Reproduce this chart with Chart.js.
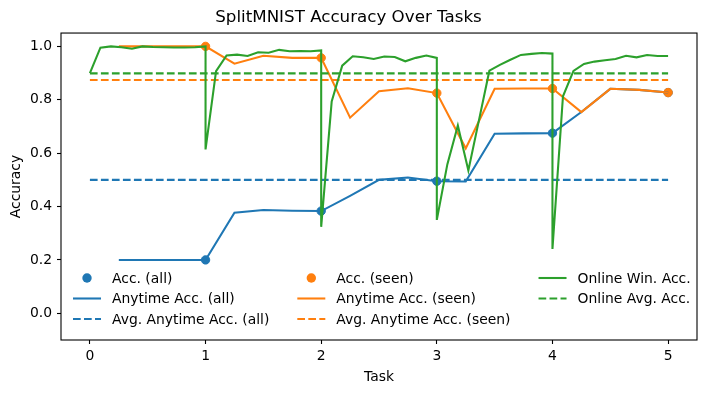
<!DOCTYPE html>
<html>
<head>
<meta charset="utf-8">
<script src="https://cdn.jsdelivr.net/npm/chart.js@4/dist/chart.umd.min.js"></script>
<style>
  body { margin: 0; background: #fff; }
</style>
</head>
<body>
<canvas id="myChart" width="706" height="393"></canvas>
<script>
// values
const tasks = [1, 2, 3, 4, 5];
const accAll = [0.2, 0.383, 0.495, 0.675, 0.827];
const accSeen = [1.0, 0.957, 0.825, 0.842, 0.827];

const evalSteps = [0.25, 0.5, 0.75, 1.0, 1.25, 1.5, 1.75, 2.0, 2.25, 2.5,
                   2.75, 3.0, 3.25, 3.5, 3.75, 4.0, 4.25, 4.5, 4.75, 5.0];
const anytimeAll = [0.2, 0.2, 0.2, 0.2, 0.377, 0.387, 0.384, 0.383, 0.44, 0.5,
                    0.509, 0.495, 0.494, 0.673, 0.674, 0.675, 0.754, 0.841, 0.837, 0.827];
const anytimeSeen = [1.0, 1.0, 1.0, 1.0, 0.935, 0.965, 0.957, 0.957, 0.733, 0.832,
                     0.843, 0.825, 0.618, 0.841, 0.842, 0.842, 0.754, 0.841, 0.837, 0.827];

const avgAnytimeAll = 0.5;
const avgAnytimeSeen = 0.874;
const onlineAvgAcc = 0.899;

// online window accuracy, 12 evaluations per task (task start .. task end)
const onlineTask0 = [0.90, 0.995, 1.0, 0.997, 0.991, 1.0, 0.998, 0.997, 0.996, 0.996, 0.997, 1.0];
const onlineTask1 = [0.614, 0.907, 0.966, 0.969, 0.964, 0.978, 0.976, 0.987, 0.982, 0.983, 0.982, 0.985];
const onlineTask2 = [0.324, 0.794, 0.928, 0.963, 0.959, 0.953, 0.962, 0.960, 0.944, 0.957, 0.966, 0.957];
const onlineTask3 = [0.35, 0.558, 0.704, 0.535, 0.722, 0.909, 0.931, 0.95, 0.968, 0.972, 0.975, 0.973];
const onlineTask4 = [0.241, 0.813, 0.908, 0.934, 0.943, 0.948, 0.953, 0.965, 0.959, 0.968, 0.964, 0.964];

const xTicks = [0, 1, 2, 3, 4, 5];
const yTicks = [0.0, 0.2, 0.4, 0.6, 0.8, 1.0];

const BLUE = '#1f77b4';
const ORANGE = '#ff7f0e';
const GREEN = '#2ca02c';
const FONT = "'DejaVu Sans', sans-serif";
const LW = 2.08;
const DASH = [7.7, 3.3];

function pairs(xs, ys) {
    return xs.map((x, i) => ({ x: x, y: ys[i] }));
}

const onlineWin = [];
[onlineTask0, onlineTask1, onlineTask2, onlineTask3, onlineTask4].forEach((vals, t) => {
    vals.forEach((v, j) => onlineWin.push({ x: t + j / 11, y: v }));
});

function flat(v) {
    return [{ x: 0, y: v }, { x: 5, y: v }];
}

function lineSet(label, data, color, dashed, order) {
    return {
        type: 'line',
        label: label,
        data: data,
        borderColor: color,
        backgroundColor: color,
        borderWidth: LW,
        borderDash: dashed ? DASH : [],
        pointRadius: 0,
        tension: 0,
        fill: false,
        order: order
    };
}

function scatterSet(label, data, color, order) {
    return {
        type: 'scatter',
        label: label,
        data: data,
        borderColor: color,
        backgroundColor: color,
        pointRadius: 4.2,
        borderWidth: 1,
        showLine: false,
        order: order
    };
}

// frame round the plot and a matplotlib-like legend (3 columns, column-major)
const framePlugin = {
    id: 'frameAndLegend',
    afterDraw(chart) {
        const ctx = chart.ctx;
        const a = chart.chartArea;
        ctx.save();
        ctx.strokeStyle = '#000';
        ctx.lineWidth = 1.1;
        ctx.strokeRect(a.left, a.top, a.right - a.left, a.bottom - a.top);

        ctx.font = '13.9px ' + FONT;
        ctx.textBaseline = 'middle';
        ctx.textAlign = 'left';
        const sets = chart.data.datasets;
        const rows = 3;
        const handle = 28, pad = 11, colGap = 28;
        const rowY = [a.bottom - 62, a.bottom - 41.5, a.bottom - 21];
        let x = a.left + 12;
        for (let c = 0; c * rows < sets.length; c++) {
            let maxW = 0;
            for (let r = 0; r < rows; r++) {
                const ds = sets[c * rows + r];
                if (!ds) continue;
                const y = rowY[r];
                if (ds.type === 'scatter') {
                    ctx.fillStyle = ds.backgroundColor;
                    ctx.beginPath();
                    ctx.arc(x + handle / 2, y, 4.7, 0, Math.PI * 2);
                    ctx.fill();
                } else {
                    ctx.strokeStyle = ds.borderColor;
                    ctx.lineWidth = LW;
                    ctx.setLineDash(ds.borderDash);
                    ctx.beginPath();
                    ctx.moveTo(x, y);
                    ctx.lineTo(x + handle, y);
                    ctx.stroke();
                    ctx.setLineDash([]);
                }
                ctx.fillStyle = '#000';
                ctx.fillText(ds.label, x + handle + pad, y + 1);
                maxW = Math.max(maxW, ctx.measureText(ds.label).width);
            }
            x += handle + pad + maxW + colGap;
        }
        ctx.restore();
    }
};

const ctx = document.getElementById('myChart').getContext('2d');
const myChart = new Chart(ctx, {
    data: {
        datasets: [
            scatterSet('Acc. (all)', pairs(tasks, accAll), BLUE, 20),
            lineSet('Anytime Acc. (all)', pairs(evalSteps, anytimeAll), BLUE, false, 8),
            lineSet('Avg. Anytime Acc. (all)', flat(avgAnytimeAll), BLUE, true, 7),
            scatterSet('Acc. (seen)', pairs(tasks, accSeen), ORANGE, 19),
            lineSet('Anytime Acc. (seen)', pairs(evalSteps, anytimeSeen), ORANGE, false, 6),
            lineSet('Avg. Anytime Acc. (seen)', flat(avgAnytimeSeen), ORANGE, true, 5),
            lineSet('Online Win. Acc.', onlineWin, GREEN, false, 4),
            lineSet('Online Avg. Acc.', flat(onlineAvgAcc), GREEN, true, 3)
        ]
    },
    plugins: [framePlugin],
    options: {
        responsive: false,
        devicePixelRatio: 1,
        animation: false,
        layout: { padding: { left: 0, right: 9, top: 0, bottom: 0 } },
        scales: {
            x: {
                type: 'linear',
                min: -0.25,
                max: 5.25,
                afterBuildTicks: (scale) => { scale.ticks = xTicks.map(v => ({ value: v })); },
                afterFit: (scale) => { scale.height = 53; },
                ticks: {
                    autoSkip: false,
                    maxRotation: 0,
                    padding: 4,
                    color: '#000',
                    font: { family: FONT, size: 13.9 },
                    callback: (v) => String(v)
                },
                grid: { drawOnChartArea: false, drawTicks: true, tickLength: 4, tickColor: '#000', tickWidth: 1.1 },
                border: { display: false },
                title: {
                    display: true,
                    text: 'Task',
                    color: '#000',
                    font: { family: FONT, size: 13.9 },
                    padding: { top: 0, bottom: 7 }
                }
            },
            y: {
                type: 'linear',
                min: -0.1,
                max: 1.05,
                afterBuildTicks: (scale) => { scale.ticks = yTicks.map(v => ({ value: v })); },
                afterFit: (scale) => { scale.width = 61; },
                ticks: {
                    autoSkip: false,
                    padding: 5,
                    color: '#000',
                    font: { family: FONT, size: 13.9 },
                    callback: (v) => Number(v).toFixed(1)
                },
                grid: { drawOnChartArea: false, drawTicks: true, tickLength: 4, tickColor: '#000', tickWidth: 1.1 },
                border: { display: false },
                title: {
                    display: true,
                    text: 'Accuracy',
                    color: '#000',
                    font: { family: FONT, size: 13.9 },
                    padding: { top: 8, bottom: 0 }
                }
            }
        },
        plugins: {
            legend: { display: false },
            tooltip: { enabled: false },
            title: {
                display: true,
                text: 'SplitMNIST Accuracy Over Tasks',
                color: '#000',
                font: { family: FONT, size: 16.7, weight: 'normal' },
                padding: { top: 8, bottom: 5 }
            }
        }
    }
});
</script>
</body>
</html>
